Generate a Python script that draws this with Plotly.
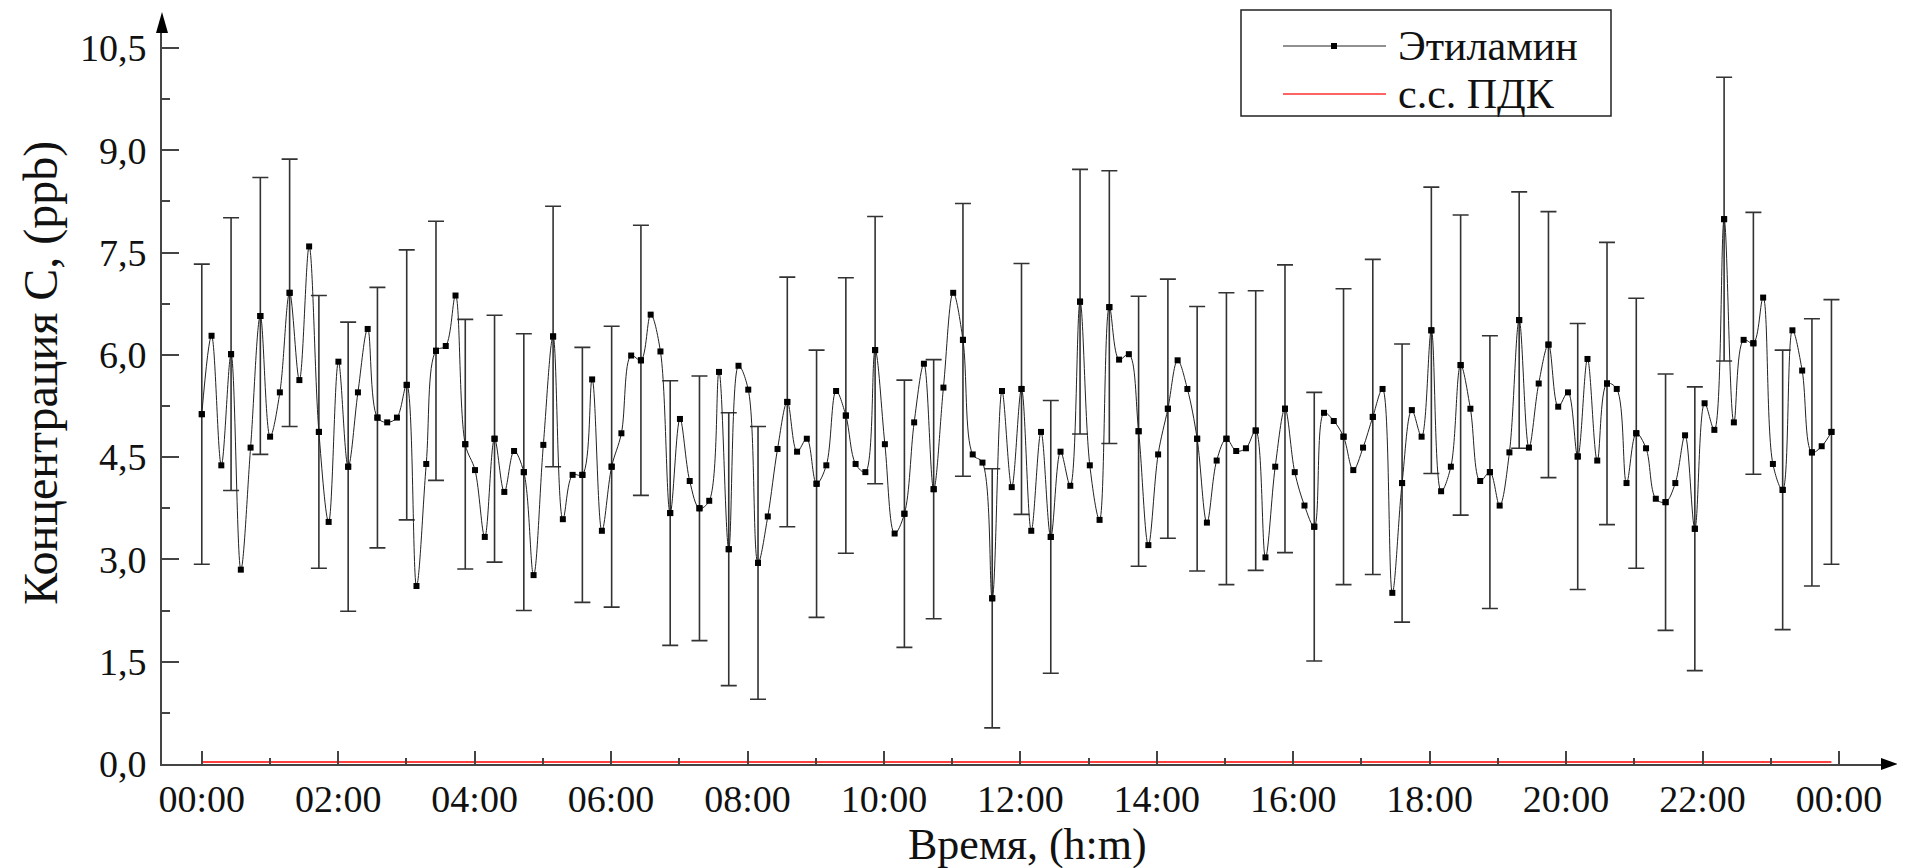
import pandas as pd
import plotly.graph_objects as go

# Этиламин, ppb, один отсчёт примерно каждые 8.6 мин за сутки
conc = [
    5.13, 6.28, 4.38, 6.01, 2.85, 4.64, 6.57, 4.80, 5.45, 6.91,
    5.63, 7.59, 4.87, 3.55, 5.90, 4.36, 5.45, 6.38, 5.08, 5.01,
    5.08, 5.56, 2.61, 4.40, 6.06, 6.13, 6.87, 4.69, 4.31, 3.33,
    4.77, 3.99, 4.59, 4.28, 2.77, 4.68, 6.27, 3.59, 4.24, 4.24,
    5.64, 3.42, 4.36, 4.85, 5.99, 5.92, 6.59, 6.05, 3.68, 5.06,
    4.15, 3.75, 3.86, 5.75, 3.15, 5.84, 5.49, 2.95, 3.63, 4.62,
    5.31, 4.58, 4.77, 4.11, 4.38, 5.47, 5.11, 4.40, 4.28, 6.07,
    4.69, 3.38, 3.67, 5.01, 5.87, 4.03, 5.52, 6.91, 6.22, 4.54,
    4.42, 2.43, 5.47, 4.06, 5.50, 3.42, 4.87, 3.33, 4.58, 4.08,
    6.78, 4.38, 3.58, 6.70, 5.93, 6.01, 4.88, 3.21, 4.54, 5.21,
    5.92, 5.50, 4.77, 3.54, 4.45, 4.77, 4.59, 4.63, 4.89, 3.03,
    4.36, 5.21, 4.28, 3.79, 3.48, 5.15, 5.03, 4.80, 4.31, 4.64,
    5.09, 5.50, 2.51, 4.12, 5.19, 4.80, 6.36, 4.00, 4.36, 5.85,
    5.21, 4.15, 4.28, 3.79, 4.57, 6.51, 4.64, 5.58, 6.15, 5.24,
    5.45, 4.51, 5.94, 4.45, 5.58, 5.50, 4.12, 4.85, 4.63, 3.89,
    3.84, 4.12, 4.82, 3.45, 5.29, 4.90, 7.99, 5.01, 6.22, 6.17,
    6.84, 4.40, 4.02, 6.36, 5.77, 4.57, 4.66, 4.87,
]

# погрешность показана у каждой третьей точки и у последней
err_idx = list(range(0, len(conc), 3)) + [len(conc) - 1]
err = [
    2.20, 2.00, 2.03, 1.96, 2.00, 2.12, 1.91, 1.98, 1.90, 1.83,
    1.81, 2.03, 1.91, 1.87, 2.06, 1.98, 1.94, 1.94, 2.00, 2.00,
    1.83, 1.96, 2.02, 1.96, 1.96, 1.90, 2.00, 1.90, 1.84, 2.00,
    1.94, 2.00, 1.98, 1.90, 1.94, 2.14, 2.05, 2.11, 1.97, 2.17,
    2.31, 2.04, 2.10, 2.20, 2.00, 1.88, 1.95, 1.95, 2.07, 1.98,
    1.88, 2.08, 2.08, 1.92, 2.05, 1.96, 1.94,
]

pdk = 0.03  # с.с. ПДК

t = pd.date_range("2020-01-01 00:00", periods=len(conc), freq="515s")
t_err = [t[i] for i in err_idx]
c_err = [conc[i] for i in err_idx]

W, H = 1905, 868
OFF = 8  # отступ body в странице
# область графика в координатах страницы
X0, X1, Y0, Y1 = 162, 1881, 33, 764
FONT = "Liberation Serif, Times New Roman, DejaVu Serif, serif"
TXT = "#111111"
AX = "#444444"


def px(xp):
    return (xp - X0) / (X1 - X0)


def py(yp):
    return (Y1 - yp) / (Y1 - Y0)


fig = go.Figure()

fig.add_trace(go.Scatter(
    x=[t[0], t[-1]], y=[pdk, pdk], mode="lines",
    line=dict(color="red", width=1.5), name="с.с. ПДК", showlegend=False,
))

fig.add_trace(go.Scatter(
    x=t_err, y=c_err, mode="markers",
    marker=dict(size=6, symbol="square", color="black"),
    error_y=dict(type="data", array=err, color="#333333", thickness=1.6, width=8),
    showlegend=False, hoverinfo="skip",
))

fig.add_trace(go.Scatter(
    x=t, y=conc, mode="lines+markers", name="Этиламин",
    line=dict(color="#222222", width=1, shape="spline"),
    marker=dict(size=6, symbol="square", color="black"),
    showlegend=False,
))

fig.update_xaxes(
    type="date",
    range=[pd.Timestamp("2020-01-01") - pd.Timedelta(minutes=35),
           pd.Timestamp("2020-01-01") + pd.Timedelta(hours=24, minutes=37)],
    tick0="2020-01-01 00:00", dtick=2 * 3600 * 1000, tickformat="%H:%M",
    ticks="inside", ticklen=13, tickwidth=1.5, tickcolor=AX,
    minor=dict(ticks="inside", dtick=3600 * 1000, ticklen=6, tickwidth=1.5, tickcolor=AX),
    showline=True, linecolor=AX, linewidth=2,
    showgrid=False, zeroline=False,
    tickfont=dict(family=FONT, size=38, color=TXT),
)

fig.update_yaxes(
    range=[0, 10.72], tick0=0, dtick=1.5, tickformat=".1f",
    ticks="inside", ticklen=17, tickwidth=1.5, tickcolor=AX,
    minor=dict(ticks="inside", dtick=0.75, ticklen=8, tickwidth=1.5, tickcolor=AX),
    showline=True, linecolor=AX, linewidth=2,
    showgrid=False, zeroline=False,
    ticklabelstandoff=6,
    tickfont=dict(family=FONT, size=38, color=TXT),
)

shapes = [
    # стрелки осей
    dict(type="path", xref="paper", yref="paper", xsizemode="pixel", ysizemode="pixel",
         xanchor=0, yanchor=1, path="M -6 0 L 6 0 L 0 21 Z",
         fillcolor="black", line=dict(width=0)),
    dict(type="path", xref="paper", yref="paper", xsizemode="pixel", ysizemode="pixel",
         xanchor=1, yanchor=0, path="M 0 -6 L 0 6 L 17 0 Z",
         fillcolor="black", line=dict(width=0)),
    # рамка легенды
    dict(type="rect", xref="paper", yref="paper", x0=px(1241), x1=px(1611), y0=py(116), y1=py(10),
         line=dict(color="#222222", width=1.5), fillcolor="white"),
    dict(type="line", xref="paper", yref="paper", x0=px(1283), x1=px(1386), y0=py(46), y1=py(46),
         line=dict(color="#222222", width=1)),
    dict(type="rect", xref="paper", yref="paper", x0=px(1331), x1=px(1337), y0=py(49), y1=py(43),
         fillcolor="black", line=dict(width=0)),
    dict(type="line", xref="paper", yref="paper", x0=px(1283), x1=px(1386), y0=py(94), y1=py(94),
         line=dict(color="#ff3030", width=1.5)),
]

annotations = [
    dict(text="Этиламин", x=px(1396), y=py(46), xref="paper", yref="paper",
         xanchor="left", yanchor="middle", showarrow=False,
         font=dict(family=FONT, size=42, color=TXT)),
    dict(text="с.с. ПДК", x=px(1396), y=py(94), xref="paper", yref="paper",
         xanchor="left", yanchor="middle", showarrow=False,
         font=dict(family=FONT, size=42, color=TXT)),
    # подписи осей
    dict(text="Время, (h:m)", x=px(1028), y=py(844), xref="paper", yref="paper",
         xanchor="center", yanchor="middle", showarrow=False,
         font=dict(family=FONT, size=44, color=TXT)),
    dict(text="Концентрация С, (ppb)", x=px(41), y=py(373), xref="paper", yref="paper",
         xanchor="center", yanchor="middle", showarrow=False, textangle=-90,
         font=dict(family=FONT, size=48, color=TXT)),
]

fig.update_layout(
    width=W, height=H,
    margin=dict(l=X0 - OFF, r=W - X1 + OFF, t=Y0 - OFF, b=H - Y1 + OFF),
    plot_bgcolor="white", paper_bgcolor="white",
    separators=", ",
    shapes=shapes, annotations=annotations,
    showlegend=False,
)

fig.write_html("out.html")
